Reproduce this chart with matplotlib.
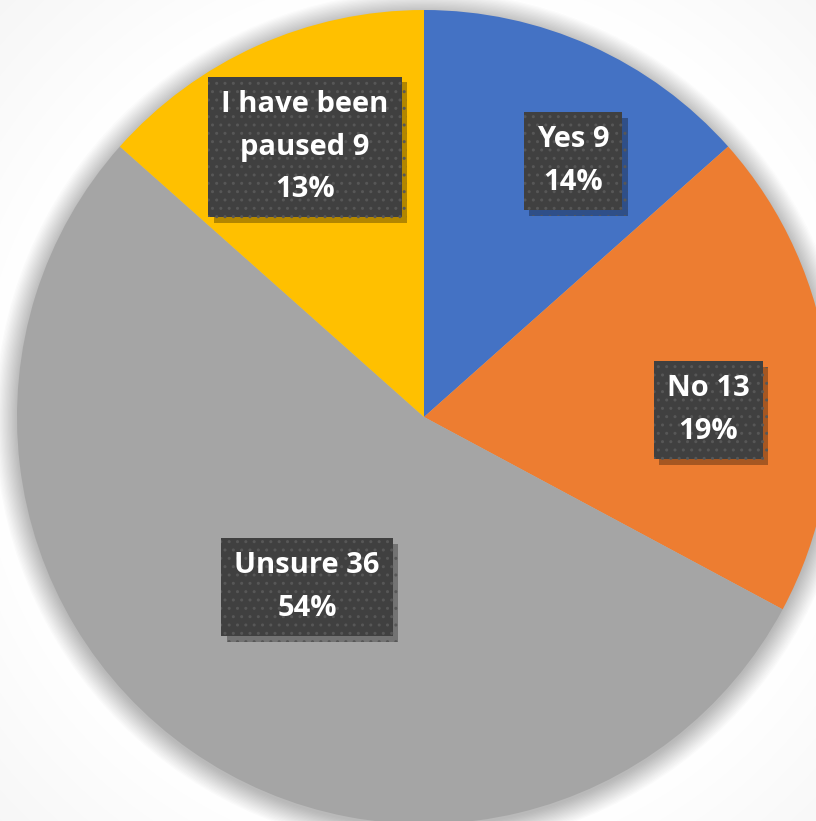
import numpy as np
import matplotlib.pyplot as plt
import matplotlib.patheffects as pe

# Survey answers (values and the labels shown on the chart)
categories = ['Yes', 'No', 'Unsure', 'I have been\npaused']
counts = [9, 13, 36, 9]
percent_labels = ['14%', '19%', '54%', '13%']
colors = ['#4472C4', '#ED7D31', '#A5A5A5', '#FFC000']

# layout in pixel coordinates (figure is 816 x 821)
W, H = 816, 821
cx, cy, radius = 424, H - 417, 407
label_pos = [(573, H - 161), (708, H - 410), (307, H - 587), (305, H - 147)]

fig = plt.figure(figsize=(W / 100, H / 100), dpi=100)
ax = fig.add_axes([0, 0, 1, 1])

# soft vignette background
yy, xx = np.mgrid[0:H, 0:W]
dist = np.hypot(xx - cx, (H - yy) - cy)
bg = np.clip((dist - radius - 20) / 250, 0, 1)
bg = 1.0 - 0.05 * bg
ax.imshow(np.dstack([bg, bg, bg]), extent=(0, W, 0, H), origin='upper', zorder=0)

# shadow around the pie
for i in range(18):
    r = radius + 22 - i * 1.3
    ax.add_patch(plt.Circle((cx, cy - 3), r, color='black', alpha=0.014, lw=0, zorder=1))

wedges, _ = ax.pie(counts, colors=colors, startangle=90, counterclock=False,
                   center=(cx, cy), radius=radius,
                   wedgeprops=dict(linewidth=0, zorder=2))
for w in wedges:
    w.set_zorder(2)

for cat, n, pct, (x, y) in zip(categories, counts, percent_labels, label_pos):
    t = ax.text(x, y, f'{cat} {n}\n{pct}', ha='center', va='center', fontsize=21,
                fontweight='bold', family='Open Sans', color='white', linespacing=1.62,
                bbox=dict(boxstyle='square,pad=0.45', facecolor='#404040',
                          edgecolor='#575757', hatch='..', linewidth=0), zorder=4)
    t.get_bbox_patch().set_path_effects([
        pe.SimplePatchShadow(offset=(4, -4), shadow_rgbFace='black', alpha=0.3),
        pe.Normal()])

ax.set_xlim(0, W)
ax.set_ylim(0, H)
ax.set_aspect('equal')
ax.axis('off')

fig.savefig('out.png', dpi=100)
